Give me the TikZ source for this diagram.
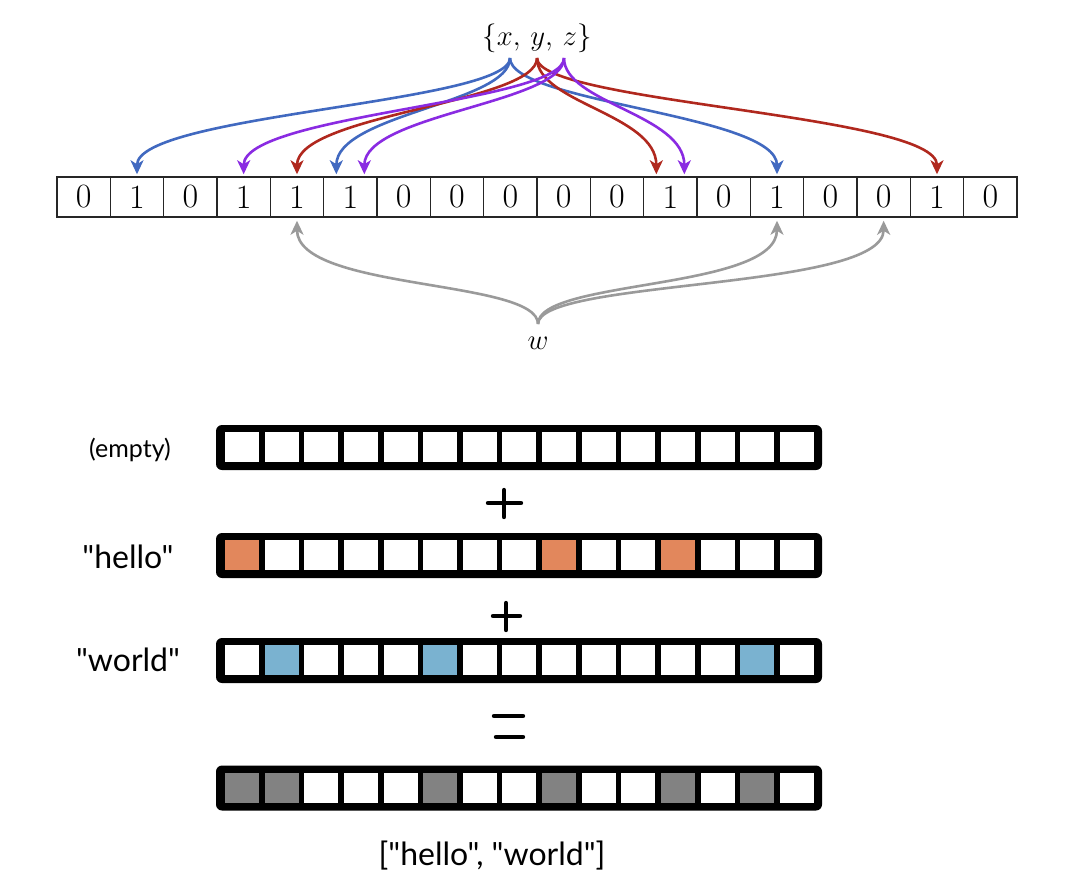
\documentclass[tikz,border=0pt]{standalone}
\usepackage{fontspec}
\newfontfamily\handfont[Ligatures=TeXOff]{Lato}
\usetikzlibrary{arrows.meta,calc}
\definecolor{cblue}{HTML}{4169C0}
\definecolor{cred}{HTML}{B0281E}
\definecolor{cpurple}{HTML}{8A2BE2}
\definecolor{cgray}{HTML}{9A9A9A}
\definecolor{corange}{HTML}{E2875C}
\definecolor{clblue}{HTML}{7AB2D0}
\definecolor{cdark}{HTML}{828282}
\tikzset{
  bit/.style={draw=black!85, line width=0.75pt, minimum width=26.667pt, minimum height=20pt, inner sep=0pt, font=\fontsize{17}{17}\selectfont},
  hasharrow/.style={line width=1.3pt, -{Stealth[length=7pt,width=6.5pt,inset=2pt]}},
  barbox/.style={fill=black, rounded corners=3pt, minimum width=303pt, minimum height=22.5pt, inner sep=0pt},
  slot/.style={fill=white, minimum width=17pt, minimum height=15pt, inner sep=0pt},
  lab/.style={font=\handfont\fontsize{16}{16}\selectfont, inner sep=0pt},
  smalllab/.style={font=\handfont\fontsize{12.5}{12.5}\selectfont, inner sep=0pt},
  sym/.style={line width=2.2pt, line cap=round},
}
\begin{document}
\begin{tikzpicture}[x=0.5pt,y=-0.5pt]
\useasboundingbox[fill=white] (0,0) rectangle (1087,895);

% ---------- top bit array ----------
\foreach \v [count=\i from 0] in {0,1,0,1,1,1,0,0,0,0,0,1,0,1,0,0,1,0}
  \node[bit] (b\i) at ({57+53.333*(\i+0.5)},197) {\v};

\node[inner sep=0pt, font=\fontsize{14.5}{14.5}\selectfont] (xyz) at (537,38) {$\{x,\, y,\, z\}$};
\coordinate (sx) at (510,58);
\coordinate (sy) at (537,58);
\coordinate (sz) at (564,58);

\node[inner sep=0pt, font=\fontsize{15}{15}\selectfont] (w) at (538,343) {$w$};
\coordinate (ws) at (538,324);

% x (blue)
\draw[hasharrow, cblue] (sx) .. controls +(0,45) and +(0,-60) .. ($(b1.north)+(0,-2)$);
\draw[hasharrow, cblue] (sx) .. controls +(0,45) and +(0,-60) .. ($(b5.north)+(-14,-2)$);
\draw[hasharrow, cblue] (sx) .. controls +(0,45) and +(0,-60) .. ($(b13.north)+(0,-2)$);
% y (red)
\draw[hasharrow, cred] (sy) .. controls +(0,45) and +(0,-60) .. ($(b4.north)+(0,-2)$);
\draw[hasharrow, cred] (sy) .. controls +(0,45) and +(0,-60) .. ($(b11.north)+(-14,-2)$);
\draw[hasharrow, cred] (sy) .. controls +(0,45) and +(0,-60) .. ($(b16.north)+(0,-2)$);
% z (purple)
\draw[hasharrow, cpurple] (sz) .. controls +(0,45) and +(0,-60) .. ($(b3.north)+(0,-2)$);
\draw[hasharrow, cpurple] (sz) .. controls +(0,45) and +(0,-60) .. ($(b5.north)+(14,-2)$);
\draw[hasharrow, cpurple] (sz) .. controls +(0,45) and +(0,-60) .. ($(b11.north)+(14,-2)$);
% w (gray)
\draw[hasharrow, cgray] (ws) .. controls +(0,-45) and +(0,70) .. ($(b4.south)+(0,3)$);
\draw[hasharrow, cgray] (ws) .. controls +(0,-45) and +(0,70) .. ($(b13.south)+(0,3)$);
\draw[hasharrow, cgray] (ws) .. controls +(0,-45) and +(0,70) .. ($(b15.south)+(0,3)$);

% ---------- bottom bloom filter bars ----------
\node[barbox] (bar1) at (519,447.5) {};
\foreach \c [count=\i from 0] in {white,white,white,white,white,white,white,white,white,white,white,white,white,white,white}
  \node[slot, fill=\c] (e\i) at ({242+39.64*\i},447) {};

\node[barbox] (bar2) at (519,555.5) {};
\foreach \c [count=\i from 0] in {corange,white,white,white,white,white,white,white,corange,white,white,corange,white,white,white}
  \node[slot, fill=\c] (h\i) at ({242+39.64*\i},555) {};

\node[barbox] (bar3) at (519,660.5) {};
\foreach \c [count=\i from 0] in {white,clblue,white,white,white,clblue,white,white,white,white,white,white,white,clblue,white}
  \node[slot, fill=\c] (o\i) at ({242+39.64*\i},660) {};

\node[barbox] (bar4) at (519,788) {};
\foreach \c [count=\i from 0] in {cdark,cdark,white,white,white,cdark,white,white,cdark,white,white,cdark,white,cdark,white}
  \node[slot, fill=\c] (r\i) at ({242+39.64*\i},787.5) {};

% labels
\node[smalllab] (lempty) at (130,450) {(empty)};
\node[lab] (lhello) at (128,557) {"hello"};
\node[lab] (lworld) at (128,660) {"world"};
\node[lab] (lres) at (492,856) {["hello", "world"]};

% operators
\draw[sym] (488,503) -- (521,503);
\draw[sym] (504,490) -- (504,517);
\draw[sym] (493,616) -- (520,616);
\draw[sym] (506,603) -- (506,630);
\draw[sym] (494,716) -- (523,716);
\draw[sym] (496,737) -- (523,737);
\end{tikzpicture}
\end{document}
